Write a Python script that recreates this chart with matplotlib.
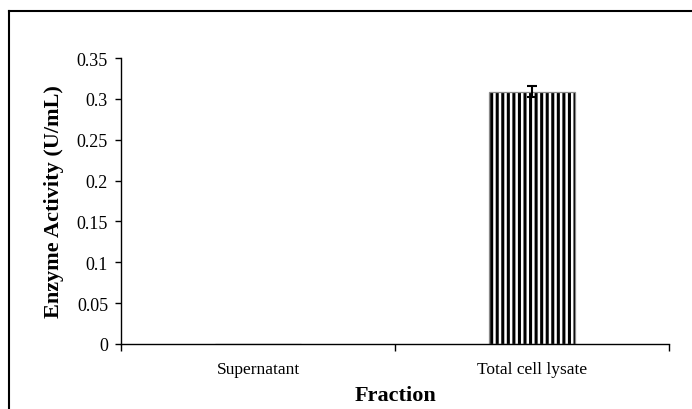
import matplotlib
matplotlib.use("Agg")
import matplotlib.pyplot as plt
from matplotlib.lines import Line2D
from matplotlib.ticker import FixedLocator, NullFormatter

fractions = ["Supernatant", "Total cell lysate"]
activity = [0.0, 0.309]
activity_err = [0.0, 0.0065]
y_ticks = [0, 0.05, 0.1, 0.15, 0.2, 0.25, 0.3, 0.35]
y_tick_labels = ["0", "0.05", "0.1", "0.15", "0.2", "0.25", "0.3", "0.35"]

plt.rcParams["font.family"] = ["Liberation Serif", "DejaVu Serif"]
plt.rcParams["hatch.linewidth"] = 2.2

fig = plt.figure(figsize=(6.92, 4.10), dpi=100)
ax = fig.add_axes([121 / 692, 1 - 345 / 410, 548 / 692, 286 / 410])

pos = list(range(len(fractions)))
bar_w = 0.317
# black vertical stripes first, then a thin grey outline on top
ax.bar(pos, activity, width=bar_w, color="white", edgecolor="black",
       linewidth=0, hatch="|||", zorder=2)
ax.bar(pos, activity, width=bar_w, color="none", edgecolor="#8a8a8a",
       linewidth=0.9, zorder=2.5)
ax.errorbar(pos[1:], activity[1:], yerr=activity_err[1:], fmt="none",
            ecolor="black", elinewidth=1.5, capsize=3.6, capthick=1.5, zorder=3)

ax.set_xlim(-0.5, len(fractions) - 0.5)
ax.set_ylim(0, 0.35)

# category boundaries get the tick marks, centres get the labels
ax.xaxis.set_major_locator(FixedLocator([-0.5, 0.5, 1.5]))
ax.xaxis.set_major_formatter(NullFormatter())
ax.xaxis.set_minor_locator(FixedLocator(pos))
ax.set_xticklabels(fractions, minor=True)
ax.tick_params(axis="x", which="major", direction="out", length=5, width=1)
ax.tick_params(axis="x", which="minor", length=0, pad=12, labelsize=12.5)

ax.set_yticks(y_ticks)
ax.set_yticklabels(y_tick_labels)
ax.tick_params(axis="y", direction="out", length=4.3, width=1, labelsize=13, pad=5)

for side in ("top", "right"):
    ax.spines[side].set_visible(False)
for side in ("left", "bottom"):
    ax.spines[side].set_linewidth(1.0)

ax.set_ylabel("Enzyme Activity (U/mL)", fontsize=16, fontweight="bold", labelpad=9)
ax.set_xlabel("Fraction", fontsize=16, fontweight="bold", labelpad=6)

# outer frame around the chart area
fig.add_artist(Line2D([9 / 692, 9 / 692], [0, 1 - 12 / 410], transform=fig.transFigure,
                      color="black", linewidth=1.5))
fig.add_artist(Line2D([9 / 692, 1], [1 - 12 / 410, 1 - 12 / 410], transform=fig.transFigure,
                      color="black", linewidth=1.5))

fig.savefig("out.png", dpi=100)
